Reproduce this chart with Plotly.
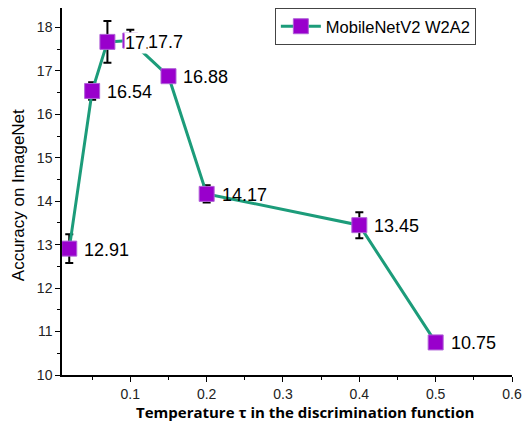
import plotly.graph_objects as go

temps = [0.02, 0.05, 0.07, 0.1, 0.15, 0.2, 0.4, 0.5]
acc = [12.91, 16.54, 17.67, 17.7, 16.88, 14.17, 13.45, 10.75]
err = [0.33, 0.2, 0.48, 0.25, 0.08, 0.2, 0.3, 0.08]
labels = ["12.91", "16.54", "17.67", "17.7", "16.88", "14.17", "13.45", "10.75"]
label_bg = [None, None, "white", "white", None, None, None, None]
label_shift = [14, 14, 17, 17, 14, 14, 14, 14]
series_name = "MobileNetV2 W2A2"
x_title = "Temperature τ in the discrimination function"
y_title = "Accuracy on ImageNet"

GREEN = "#1c9c7a"
PURPLE = "#9900cc"

fig = go.Figure()
fig.add_trace(go.Scatter(
    x=temps, y=acc, mode="lines+markers", name=series_name,
    line=dict(color=GREEN, width=3),
    marker=dict(symbol="square", size=15, color=PURPLE, line=dict(color="#b060d8", width=1)),
    error_y=dict(type="data", array=err, visible=True, color="black", thickness=2, width=4),
))

for x, y, t, bg, s in zip(temps, acc, labels, label_bg, label_shift):
    fig.add_annotation(
        x=x, y=y, text=t, showarrow=False, xanchor="left", yanchor="middle",
        xshift=s, yshift=-1,
        font=dict(family="Liberation Sans, Arial", size=18, color="black"),
        bgcolor=bg if bg else "rgba(0,0,0,0)", borderpad=0,
    )

fig.add_annotation(
    x=0.54, y=0, xref="paper", yref="paper", xanchor="center", yanchor="middle",
    yshift=-37, text=x_title, showarrow=False,
    font=dict(family="Open Sans", size=15, color="black", weight="bold"),
)
fig.add_annotation(
    x=0, y=0.49, xref="paper", yref="paper", xanchor="center", yanchor="middle",
    xshift=-44, text=y_title, textangle=-90, showarrow=False,
    font=dict(family="Liberation Sans, Arial", size=17, color="black"),
)

axis_font = dict(family="Liberation Sans, Arial", size=14, color="#222")
fig.update_layout(
    width=522, height=418,
    margin=dict(l=54, r=18, t=0, b=51, autoexpand=False),
    paper_bgcolor="white", plot_bgcolor="white",
    showlegend=True,
    legend=dict(
        x=0.473, y=1.0, xanchor="left", yanchor="top",
        bordercolor="#444", borderwidth=1, bgcolor="white",
        font=dict(family="Liberation Sans, Arial", size=16.5, color="black"),
        itemwidth=40, tracegroupgap=0,
    ),
    xaxis=dict(
        range=[0.0105, 0.6], tickvals=[0.1, 0.2, 0.3, 0.4, 0.5, 0.6],
        ticktext=["0.1", "0.2", "0.3", "0.4", "0.5", "0.6"],
        showgrid=False, zeroline=False, automargin=False,
        showline=True, linecolor="black", linewidth=1.5,
        ticks="outside", ticklen=5, tickcolor="black", tickwidth=1.2,
        minor=dict(tickvals=[0.05, 0.15, 0.25, 0.35, 0.45, 0.55], ticks="outside", ticklen=3, tickcolor="black"),
        tickfont=axis_font,
    ),
    yaxis=dict(
        range=[10, 18.45], tickvals=[10, 11, 12, 13, 14, 15, 16, 17, 18],
        showgrid=False, zeroline=False, automargin=False,
        showline=True, linecolor="black", linewidth=1.5,
        ticks="outside", ticklen=5, tickcolor="black", tickwidth=1.2,
        minor=dict(tickvals=[10.5, 11.5, 12.5, 13.5, 14.5, 15.5, 16.5, 17.5], ticks="outside", ticklen=3, tickcolor="black"),
        tickfont=axis_font,
    ),
)

fig.write_html("out.html")
